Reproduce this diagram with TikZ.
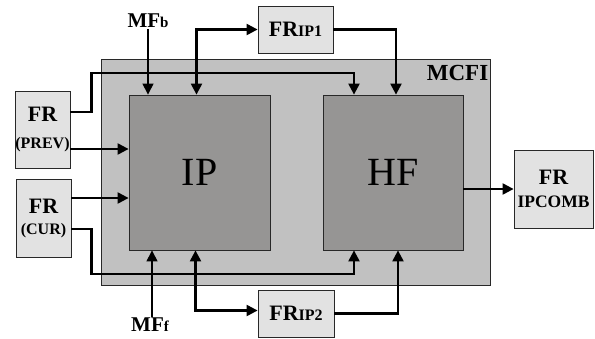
\documentclass[tikz,border=0pt]{standalone}
\usepackage{fontspec}
\setmainfont{Liberation Serif}
\usetikzlibrary{arrows.meta}

\definecolor{mcfigray}{RGB}{193,193,193}
\definecolor{coregray}{RGB}{150,149,148}
\definecolor{frgray}{RGB}{226,226,226}
\definecolor{edgegray}{RGB}{40,40,40}

\begin{document}
\begin{tikzpicture}[x=1pt,y=-1pt]
\tikzstyle{frbox} = [draw=edgegray, fill=frgray, line width=0.8pt, inner sep=0pt, align=center]
\tikzstyle{core} = [draw=edgegray, fill=coregray, line width=0.8pt, inner sep=0pt]
\tikzstyle{link} = [draw=black, line width=2.2pt, -{Triangle[length=11pt,width=11pt]}]
\tikzstyle{dlink} = [draw=black, line width=2.2pt, {Triangle[length=11pt,width=11pt]}-{Triangle[length=11pt,width=11pt]}]
\tikzstyle{flink} = [draw=black, line width=1.1pt, -{Triangle[length=11pt,width=11pt]}]
\tikzstyle{big} = [font=\fontsize{40}{40}\selectfont, inner sep=0pt]
\tikzstyle{lbl} = [font=\bfseries\fontsize{21}{21}\selectfont, inner sep=1pt]

\useasboundingbox (0,0) rectangle (595,338);

% outer block and the two stages
\draw(295.5,172) node[core, fill=mcfigray, minimum width=389, minimum height=226] (mcfi) {};
\draw(199.5,172.5) node[core, minimum width=141, minimum height=155] (ip) {};
\draw(393,172.5) node[core, minimum width=140, minimum height=155] (hf) {};

\node[big] (iplbl) at (ip.center) {IP};
\node[big] (hflbl) at (hf.center) {HF};
\node[anchor=north east, font=\bfseries\fontsize{23}{23}\selectfont, inner sep=0pt] (mcfilbl) at ([xshift=-2pt,yshift=-6pt]mcfi.north east) {MCFI};

% frame buffers
\draw(42.5,129.5) node[frbox, font=\bfseries\fontsize{22}{27}\selectfont, minimum width=55, minimum height=77] (prev)
  {FR\\{\fontsize{16}{16}\selectfont (PREV)}};
\draw(43.5,218) node[frbox, font=\bfseries\fontsize{22}{21}\selectfont, minimum width=55, minimum height=78] (cur)
  {FR\\{\fontsize{16}{16}\selectfont (CUR)}};
\draw(295.5,29.5) node[frbox, font=\bfseries\fontsize{22}{22}\selectfont, minimum width=75, minimum height=47] (frip1)
  {FR{\fontsize{16}{16}\selectfont IP1}};
\draw(296,313.5) node[frbox, font=\bfseries\fontsize{22}{22}\selectfont, minimum width=76, minimum height=47] (frip2)
  {FR{\fontsize{16}{16}\selectfont IP2}};
\draw(553.5,189) node[frbox, font=\bfseries\fontsize{22}{23}\selectfont, minimum width=79, minimum height=78] (comb)
  {FR\\{\fontsize{17.5}{17.5}\selectfont IPCOMB}};

% motion fields
\node[lbl] (mfb) at (148,21) {MF{\fontsize{15}{15}\selectfont b}};
\node[lbl] (mff) at (150,325) {MF{\fontsize{15}{15}\selectfont f}};

% connections
\draw[flink] (mfb.south) -- (mfb.south |- ip.north);
\draw[flink] ([xshift=2pt]mff.north) -- ([xshift=2pt]mff.north |- ip.south);
\draw[dlink] ([xshift=-3pt]ip.north) |- (frip1.west);
\draw[link] (frip1.east) -| ([xshift=3pt]hf.north);
\draw[dlink] ([xshift=-4pt]ip.south) |- ([yshift=3pt]frip2.west);
\draw[link] (frip2.east) -| ([xshift=5pt]hf.south);

\coordinate (p1) at ([yshift=-19.5pt]prev.east);
\draw[link] (p1) -- (p1 -| ip.west);
\draw[link] ([yshift=17.5pt]prev.east) -- ++(21,0) -- ++(0,-39) -| ([xshift=-39pt]hf.north);

\coordinate (c1) at ([yshift=20pt]cur.east);
\draw[link] (c1) -- (c1 -| ip.west);
\draw[link] ([yshift=-11pt]cur.east) -- ++(20,0) -- ++(0,45) -| ([xshift=-39pt]hf.south);

\draw[link] (hf.east |- comb.west) -- (comb.west);
\end{tikzpicture}
\end{document}
